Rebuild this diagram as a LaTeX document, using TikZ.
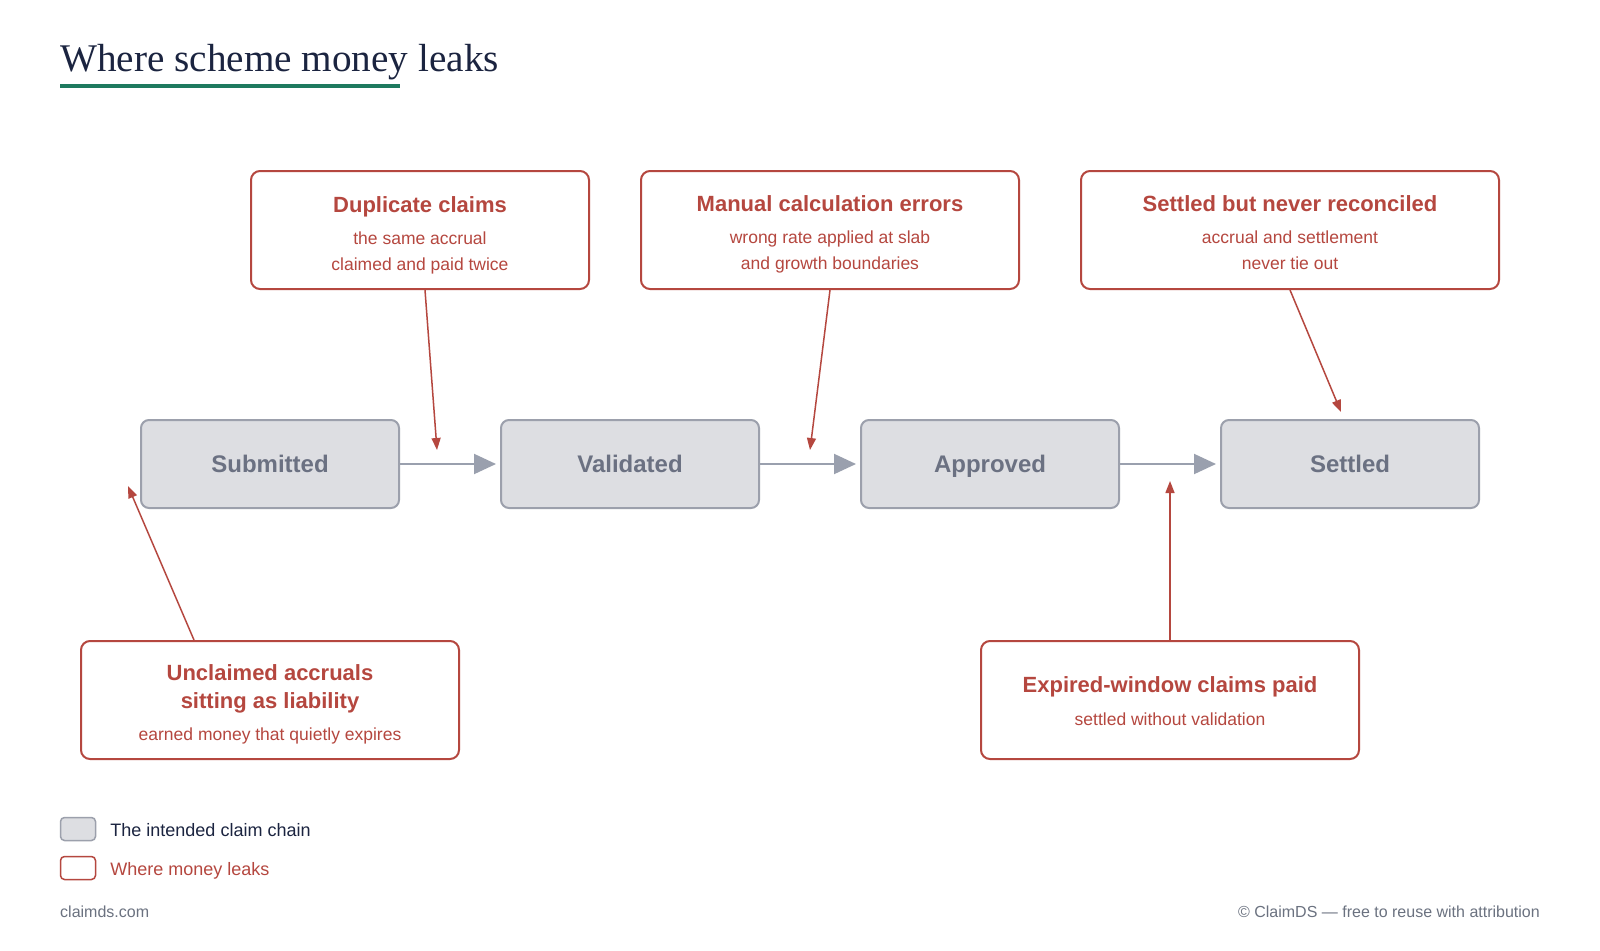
\documentclass[tikz,border=0pt]{standalone}
\usepackage{fontspec}
\setmainfont{Liberation Sans}
\newfontfamily\headfont{Liberation Serif}
\usetikzlibrary{arrows.meta,positioning}
\definecolor{navy}{HTML}{1B2440}
\definecolor{rulegreen}{HTML}{1E7A5F}
\definecolor{leakred}{HTML}{B5473F}
\definecolor{stagefill}{HTML}{DDDEE2}
\definecolor{stageline}{HTML}{9CA0AC}
\definecolor{stagetext}{HTML}{6B7182}
\definecolor{flowgray}{HTML}{9AA0AE}
\definecolor{footgray}{HTML}{6B7280}
\newcommand{\leakhead}[1]{{\fontsize{22}{26}\selectfont\bfseries #1}}
\newcommand{\lift}[1]{\rule{0pt}{#1pt}}

\begin{document}
\begin{tikzpicture}[x=1pt,y=-1pt,>=Latex, every node/.style={inner sep=0pt},
 stage/.style={draw=stageline,fill=stagefill,line width=2pt,rounded corners=8pt,minimum width=258pt,minimum height=88pt,text height=20pt,text depth=3pt,text=stagetext,font=\fontsize{24}{28}\selectfont\bfseries},
 leak/.style={draw=leakred,fill=white,line width=2pt,rounded corners=9pt,align=center,minimum height=118pt,text=leakred,font=\fontsize{17.5}{26}\selectfont},
 flow/.style={-{Triangle[length=22pt,width=20pt]},draw=flowgray,line width=2pt,shorten >=4pt},
 hit/.style={-{Triangle[length=12pt,width=9pt]},draw=leakred,line width=1.5pt},
 swatch/.style={line width=1.5pt,rounded corners=4pt,minimum width=35pt,minimum height=23pt},
 legtext/.style={font=\fontsize{18}{22}\selectfont,text height=13pt,text depth=4pt,anchor=west,yshift=-3pt}]
\useasboundingbox[fill=white] (0,0) rectangle (1600,950);
% title
\node[anchor=base west,text=navy,font=\headfont\fontsize{39.2}{44}\selectfont] (ttl) at (60,71) {Where scheme money leaks};
\draw[rulegreen,line width=3.5pt] (60,86) -- (400,86);
% the claim chain
\node[stage] (sub) at (270,464) {Submitted};
\node[stage] (val) at (630,464) {Validated};
\node[stage] (app) at (990,464) {Approved};
\node[stage] (stl) at (1350,464) {Settled};
\draw[flow] (sub) -- (val);\draw[flow] (val) -- (app);\draw[flow] (app) -- (stl);
% leaks
\node[leak,minimum width=338pt] (dup) at (420,230) {\leakhead{\lift{26}Duplicate claims}\\[6pt]the same accrual\\claimed and paid twice};
\node[leak,minimum width=378pt] (man) at (830,230) {\leakhead{\lift{25}Manual calculation errors}\\[6pt]wrong rate applied at slab\\and growth boundaries};
\node[leak,minimum width=418pt] (rec) at (1290,230) {\leakhead{\lift{22}Settled but never reconciled}\\[6pt]accrual and settlement\\never tie out};
\node[leak,minimum width=378pt] (unc) at (270,700) {\leakhead{\lift{24}Unclaimed accruals}\\[2pt]\leakhead{sitting as liability}\\[6pt]earned money that quietly expires};
\node[leak,minimum width=378pt] (exp) at (1170,700) {\leakhead{\lift{18}Expired-window claims paid}\\[7pt]settled without validation};
\coordinate (t1) at (437,450);
\coordinate (t2) at (810,450);
\coordinate (t3) at (1341,412);
\coordinate (t4) at (128,486);
\coordinate (t5) at (1170,481);
\draw[hit] ([xshift=5pt]dup.south) -- (t1);
\draw[hit] (man.south) -- (t2);
\draw[hit] (rec.south) -- (t3);
\draw[hit] ([xshift=114pt]unc.north west) -- (t4);
\draw[hit] (exp.north) -- (t5);
% legend
\node[swatch,draw=stageline,fill=stagefill] (lg1) at (78,829) {};
\node[swatch,draw=leakred,fill=white] (lg2) at (78,868) {};
\node[legtext,text=navy,right=14pt of lg1] (lt1) {The intended claim chain};
\node[legtext,text=leakred,right=14pt of lg2] (lt2) {Where money leaks};
% footer
\node[anchor=west,text=footgray,font=\fontsize{16}{20}\selectfont] (url) at (60,912) {claimds.com};
\node[anchor=east,text=footgray,font=\fontsize{16}{20}\selectfont] (cpy) at (1540,912) {© ClaimDS — free to reuse with attribution};
\end{tikzpicture}
\end{document}
